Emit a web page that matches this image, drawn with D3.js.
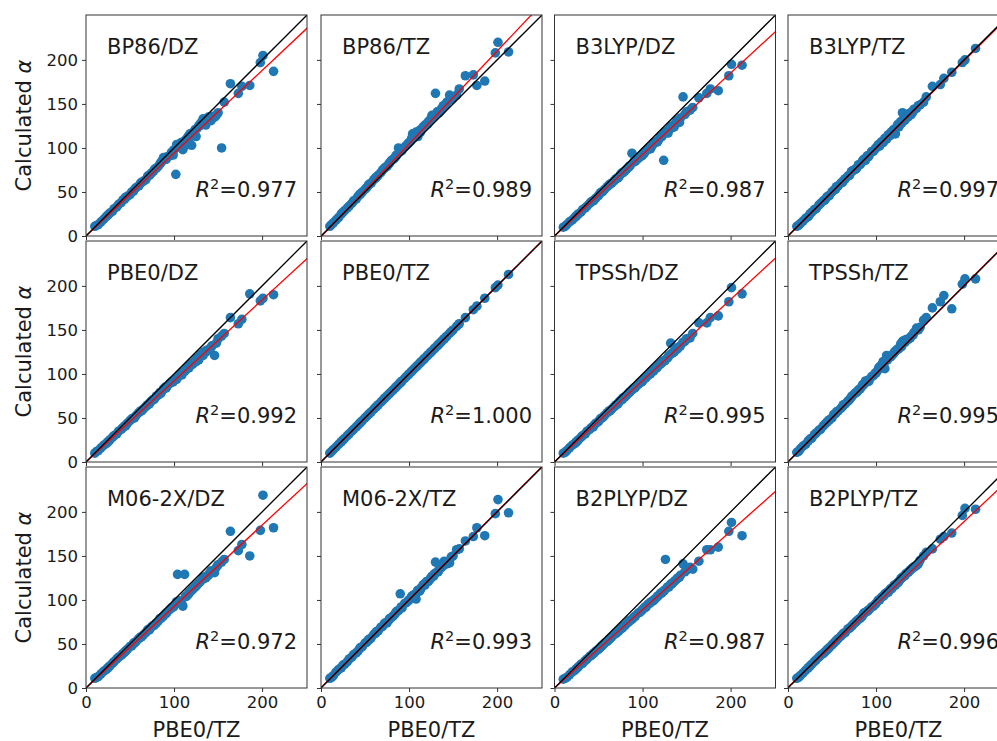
<!DOCTYPE html>
<html>
<head>
<meta charset="utf-8">
<script src="https://cdn.jsdelivr.net/npm/d3@7"></script>
<style>
  body { margin: 0; background: #fff; }
  text { font-family: "DejaVu Sans", sans-serif; fill: #1a1a1a; }
</style>
</head>
<body>
<div id="chart"></div>
<script>
// panel names and fit statistics
var methods = ['BP86/DZ', 'BP86/TZ', 'B3LYP/DZ', 'B3LYP/TZ',
               'PBE0/DZ', 'PBE0/TZ', 'TPSSh/DZ', 'TPSSh/TZ',
               'M06-2X/DZ', 'M06-2X/TZ', 'B2PLYP/DZ', 'B2PLYP/TZ']
var r2Labels = ['0.977', '0.989', '0.987', '0.997',
                '0.992', '1.000', '0.995', '0.995',
                '0.972', '0.993', '0.987', '0.996']
var fitSlope = [0.94, 1.055, 0.925, 0.995, 0.92, 1.0, 0.923, 1.0, 0.925, 1.0, 0.89, 0.94]
var fitIntercept = [0, -1, 0, 0, 0, 0, 0, 0.5, 0, 0.5, 0, 1]
var xTicks = [0, 100, 200]
var yTicks = [0, 50, 100, 150, 200]

// reference polarizabilities (PBE0/TZ), shared x values
var pbe0tz = [10, 12, 14, 17, 20, 23, 25, 27, 30, 32, 35, 37, 40, 42, 44, 47, 50, 52, 54, 57,
  60, 62, 65, 68, 70, 73, 75, 78, 80, 82, 84, 86, 88, 90, 92, 95, 97, 100, 102, 104,
  106, 108, 110, 112, 114, 116, 118, 120, 122, 124, 126, 128, 130, 132, 134, 137, 140, 143, 146, 150,
  154, 157, 164, 173, 177, 186, 198, 201, 213,
  45, 55, 63, 72, 77, 85, 91, 99, 103, 109, 113, 117, 121, 125, 129, 133, 136, 139, 142, 148]

// calculated values for each method, same order as pbe0tz
var bp86dz = [11, 12, 13, 16, 19, 22, 24, 26, 28, 31, 33, 36, 38, 41, 42, 45, 47, 50, 51, 55,
  57, 60, 62, 64, 68, 70, 72, 76, 77, 79, 82, 85, 89, 88, 90, 91, 95, 98, 70, 101,
  103, 106, 98, 108, 110, 113, 116, 103, 118, 121, 122, 125, 128, 130, 131, 133, 134, 136, 135, 140,
  100, 152, 173, 162, 170, 171, 197, 205, 187,
  44, 53, 61, 69, 74, 83, 87, 92, 104, 100, 103, 111, 117, 113, 125, 133, 126, 135, 131, 137]
var bp86tz = [11, 13, 15, 18, 21, 25, 27, 29, 32, 34, 37, 40, 42, 45, 47, 50, 53, 55, 58, 60,
  64, 66, 69, 72, 75, 78, 79, 83, 86, 87, 89, 92, 100, 96, 97, 101, 103, 106, 108, 116,
  112, 118, 113, 120, 121, 124, 126, 127, 130, 132, 137, 136, 162, 141, 140, 145, 148, 152, 160, 158,
  160, 167, 182, 183, 171, 176, 208, 220, 209,
  48, 59, 67, 77, 82, 91, 97, 105, 111, 116, 118, 124, 127, 133, 137, 141, 142, 148, 150, 155]
var b3lypdz = [10, 11, 13, 16, 18, 21, 23, 25, 27, 30, 32, 34, 37, 39, 40, 43, 46, 49, 50, 53,
  56, 58, 60, 63, 65, 67, 70, 72, 74, 76, 78, 80, 94, 84, 85, 88, 90, 92, 94, 97,
  99, 100, 101, 104, 106, 107, 109, 112, 113, 86, 117, 119, 121, 124, 123, 128, 131, 134, 158, 141,
  143, 146, 157, 162, 167, 165, 182, 195, 194,
  41, 51, 59, 66, 72, 79, 86, 91, 96, 99, 106, 107, 113, 118, 117, 125, 124, 131, 129, 138]
var b3lyptz = [11, 12, 14, 17, 20, 22, 25, 27, 30, 31, 35, 37, 40, 41, 44, 46, 50, 52, 53, 57,
  60, 61, 65, 68, 69, 74, 75, 77, 81, 81, 84, 87, 86, 91, 91, 96, 96, 100, 103, 102,
  107, 106, 111, 110, 115, 114, 117, 121, 116, 125, 124, 130, 140, 131, 135, 136, 138, 144, 145, 149,
  152, 158, 170, 172, 179, 186, 197, 200, 213,
  45, 56, 63, 73, 76, 86, 90, 99, 104, 108, 113, 118, 119, 127, 128, 132, 135, 140, 141, 148]
var pbe0dz = [10, 12, 13, 16, 19, 21, 23, 25, 28, 30, 32, 35, 37, 39, 41, 44, 47, 49, 50, 53,
  56, 58, 60, 63, 65, 68, 70, 72, 75, 76, 79, 80, 83, 85, 86, 89, 91, 93, 95, 96,
  99, 100, 102, 103, 106, 108, 110, 112, 113, 115, 118, 116, 122, 121, 125, 127, 128, 132, 121, 140,
  143, 146, 164, 157, 162, 191, 183, 186, 190,
  41, 50, 58, 66, 71, 78, 84, 91, 94, 99, 104, 107, 111, 114, 119, 121, 125, 127, 130, 135]
var pbe0tzCalc = [10, 12, 14, 17, 20, 23, 25, 27, 30, 32, 35, 37, 40, 42, 44, 47, 50, 52, 54, 57,
  60, 62, 65, 68, 70, 73, 75, 78, 80, 82, 84, 86, 88, 90, 92, 95, 97, 100, 102, 104,
  106, 108, 110, 112, 114, 116, 118, 120, 122, 124, 126, 128, 130, 132, 134, 137, 140, 143, 146, 150,
  154, 157, 164, 173, 177, 186, 198, 201, 213,
  45, 55, 63, 72, 77, 85, 91, 99, 103, 109, 113, 117, 121, 125, 129, 133, 136, 139, 142, 148]
var tpsshdz = [10, 11, 13, 16, 19, 21, 23, 25, 28, 30, 32, 35, 37, 39, 40, 44, 46, 49, 50, 53,
  56, 58, 60, 63, 65, 68, 70, 73, 74, 76, 78, 80, 82, 84, 85, 88, 90, 92, 95, 96,
  98, 100, 103, 103, 106, 107, 110, 111, 113, 115, 116, 118, 121, 135, 124, 127, 129, 132, 136, 140,
  141, 146, 158, 158, 164, 166, 182, 198, 191,
  42, 51, 58, 66, 71, 79, 84, 91, 95, 100, 104, 108, 112, 115, 119, 123, 125, 128, 131, 137]
var tpsshtz = [11, 12, 15, 18, 20, 24, 26, 27, 31, 33, 36, 37, 41, 43, 45, 48, 50, 54, 55, 58,
  61, 63, 66, 69, 71, 75, 77, 79, 82, 83, 86, 88, 92, 91, 92, 97, 98, 101, 104, 108,
  110, 114, 106, 121, 118, 119, 121, 123, 126, 128, 129, 134, 137, 138, 139, 140, 143, 147, 152, 153,
  161, 164, 175, 182, 189, 174, 202, 208, 208,
  46, 57, 65, 74, 79, 88, 93, 101, 107, 112, 116, 120, 125, 128, 131, 136, 139, 141, 144, 150]
var m062xdz = [11, 12, 13, 16, 19, 21, 23, 25, 28, 30, 33, 35, 37, 39, 41, 44, 47, 48, 51, 53,
  56, 58, 60, 63, 66, 68, 70, 72, 74, 76, 79, 80, 82, 84, 86, 89, 91, 93, 96, 129,
  99, 96, 93, 129, 104, 106, 109, 111, 113, 115, 117, 119, 121, 124, 126, 127, 130, 132, 131, 140,
  143, 146, 178, 156, 163, 150, 179, 219, 182,
  42, 51, 58, 66, 71, 79, 85, 92, 98, 95, 104, 108, 112, 116, 120, 124, 125, 128, 133, 137]
var m062xtz = [11, 12, 14, 18, 21, 23, 26, 27, 30, 33, 35, 38, 40, 42, 45, 47, 51, 52, 55, 57,
  61, 62, 65, 69, 70, 74, 74, 79, 80, 82, 84, 87, 88, 107, 91, 96, 97, 100, 102, 105,
  106, 101, 111, 110, 114, 117, 117, 121, 121, 124, 127, 127, 143, 132, 134, 137, 144, 141, 142, 150,
  157, 158, 167, 172, 182, 173, 198, 214, 199,
  46, 55, 64, 73, 77, 86, 92, 99, 104, 109, 112, 118, 121, 125, 130, 132, 137, 139, 142, 149]
var b2plypdz = [10, 11, 12, 15, 18, 20, 22, 24, 27, 28, 31, 33, 36, 37, 39, 42, 44, 46, 48, 51,
  53, 55, 58, 61, 62, 65, 67, 70, 71, 73, 75, 77, 78, 80, 82, 85, 86, 89, 91, 92,
  95, 96, 98, 99, 101, 103, 105, 107, 108, 110, 146, 114, 115, 118, 119, 122, 125, 128, 141, 134,
  137, 135, 144, 157, 157, 160, 178, 188, 173,
  40, 49, 56, 64, 68, 76, 81, 88, 92, 97, 100, 104, 108, 111, 115, 118, 121, 124, 126, 132]
var b2plyptz = [11, 12, 14, 17, 20, 23, 25, 27, 30, 32, 35, 37, 39, 41, 43, 46, 49, 51, 53, 56,
  59, 61, 63, 67, 68, 71, 73, 76, 78, 79, 81, 85, 86, 87, 89, 92, 93, 96, 99, 100,
  103, 104, 107, 108, 109, 112, 113, 116, 117, 119, 121, 124, 126, 127, 130, 132, 135, 137, 139, 145,
  150, 154, 158, 169, 172, 176, 196, 204, 203,
  44, 54, 62, 70, 75, 83, 88, 95, 100, 105, 109, 113, 117, 120, 125, 128, 131, 134, 137, 141]

var calcValues = [bp86dz, bp86tz, b3lypdz, b3lyptz, pbe0dz, pbe0tzCalc,
                  tpsshdz, tpsshtz, m062xdz, m062xtz, b2plypdz, b2plyptz]

// layout
var width = 997
var height = 741
var colLeft = [86, 321, 554.5, 788]
var rowTop = [15, 241, 467]
var panelW = 221
var panelH = 221

var svg = d3.select('#chart')
  .append('svg')
  .attr('width', width)
  .attr('height', height)

var x = d3.scaleLinear().domain([0, 251]).range([0, panelW])
var y = d3.scaleLinear().domain([0, 251]).range([panelH, 0])

svg.append('defs')
  .append('clipPath')
  .attr('id', 'panel-clip')
  .append('rect')
  .attr('width', panelW)
  .attr('height', panelH)

methods.forEach(function (name, i) {
  var col = i % 4
  var row = Math.floor(i / 4)
  var g = svg.append('g')
    .attr('transform', 'translate(' + colLeft[col] + ',' + rowTop[row] + ')')

  var pts = pbe0tz.map(function (d, k) { return { x: d, y: calcValues[i][k] } })

  var plot = g.append('g').attr('clip-path', 'url(#panel-clip)')

  plot.selectAll('circle')
    .data(pts)
    .enter()
    .append('circle')
    .attr('cx', d => x(d.x))
    .attr('cy', d => y(d.y))
    .attr('r', 4.8)
    .attr('fill', '#1f77b4')

  // fitted line
  var xEnd = 260
  plot.append('line')
    .attr('x1', x(0)).attr('y1', y(fitIntercept[i]))
    .attr('x2', x(xEnd)).attr('y2', y(fitSlope[i] * xEnd + fitIntercept[i]))
    .attr('stroke', '#ff0000')
    .attr('stroke-width', 1.3)

  // y = x
  plot.append('line')
    .attr('x1', x(0)).attr('y1', y(0))
    .attr('x2', x(xEnd)).attr('y2', y(xEnd))
    .attr('stroke', '#000')
    .attr('stroke-width', 1.3)

  // axes
  var xAxis = d3.axisBottom(x).tickValues(xTicks).tickSize(4).tickPadding(4)
  if (row < 2) xAxis.tickFormat('')
  var yAxis = d3.axisLeft(y).tickValues(yTicks).tickSize(4).tickPadding(4)
  if (col > 0) yAxis.tickFormat('')

  var gx = g.append('g')
    .attr('transform', 'translate(0,' + panelH + ')')
    .call(xAxis)
  var gy = g.append('g').call(yAxis)
  ;[gx, gy].forEach(function (ax) {
    ax.select('.domain').remove()
    ax.selectAll('line').attr('stroke', '#333').attr('stroke-width', 1)
    ax.selectAll('text')
      .attr('fill', '#1a1a1a')
      .style('font-size', '16.5px')
      .style('font-family', '"DejaVu Sans", sans-serif')
  })

  g.append('rect')
    .attr('width', panelW)
    .attr('height', panelH)
    .attr('fill', 'none')
    .attr('stroke', '#333')
    .attr('stroke-width', 1)

  g.append('text')
    .attr('x', 21)
    .attr('y', 39)
    .style('font-size', '21px')
    .text(name)

  var r2 = g.append('text')
    .attr('x', panelW - 10)
    .attr('y', panelH - 39)
    .attr('text-anchor', 'end')
    .style('font-size', '21px')
  r2.append('tspan').style('font-style', 'italic').text('R')
  r2.append('tspan').attr('dy', -8).style('font-size', '14.5px').text('2')
  r2.append('tspan').attr('dy', 8).text('=' + r2Labels[i])

  if (col === 0) {
    var yl = svg.append('text')
      .attr('transform', 'translate(31,' + (rowTop[row] + panelH / 2) + ') rotate(-90)')
      .attr('text-anchor', 'middle')
      .style('font-size', '21px')
    yl.append('tspan').text('Calculated ')
    yl.append('tspan').style('font-style', 'italic').text('\u03b1')
  }
  if (row === 2) {
    svg.append('text')
      .attr('x', colLeft[col] + panelW / 2)
      .attr('y', 737)
      .attr('text-anchor', 'middle')
      .style('font-size', '21px')
      .text('PBE0/TZ')
  }
})
</script>
</body>
</html>
